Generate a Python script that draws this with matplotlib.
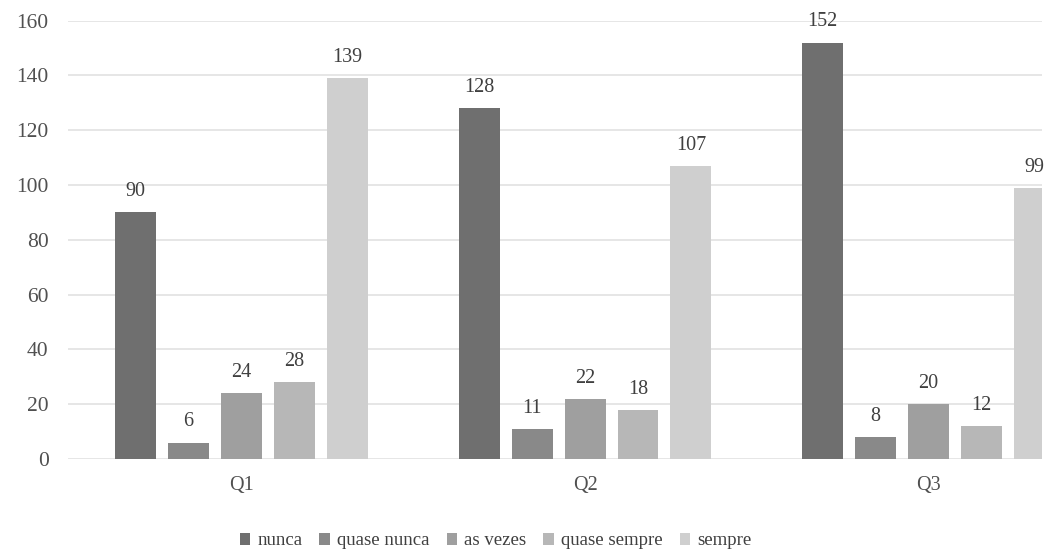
import numpy as np
import matplotlib
matplotlib.use("Agg")
import matplotlib.pyplot as plt

# data
questions = ["Q1", "Q2", "Q3"]
answers = ["nunca", "quase nunca", "as vezes", "quase sempre", "sempre"]
nunca = [90, 128, 152]
quase_nunca = [6, 11, 8]
as_vezes = [24, 22, 20]
quase_sempre = [28, 18, 12]
sempre = [139, 107, 99]
series = [nunca, quase_nunca, as_vezes, quase_sempre, sempre]
yticks = [0, 20, 40, 60, 80, 100, 120, 140, 160]

colors = ["#6f6f6f", "#898989", "#9f9f9f", "#b7b7b7", "#cfcfcf"]

plt.rcParams['font.family'] = ['Liberation Serif', 'DejaVu Serif']
plt.rcParams['font.size'] = 14.5

fig = plt.figure(figsize=(10.48, 5.56), dpi=100)
ax = fig.add_axes([0.0649, 0.1745, 0.9294, 0.7883])

x = np.arange(len(questions))
step = 0.154
width = 0.119
for i, (name, vals) in enumerate(zip(answers, series)):
    pos = x + (i - 2) * step
    bars = ax.bar(pos, vals, width, color=colors[i], label=name, zorder=3)
    for b, v in zip(bars, vals):
        ax.annotate(str(v), (b.get_x() + b.get_width() / 2, v),
                    xytext=(0, 8), textcoords="offset points",
                    ha="center", va="bottom", color="#404040", fontsize=14.5)

ax.set_xlim(-0.505, 2.33)
ax.set_ylim(0, 160)
ax.set_yticks(yticks)
ax.set_xticks(x)
ax.set_xticklabels(questions)
ax.grid(axis="y", color="#e2e2e2", linewidth=1.2, zorder=0)
for s in ax.spines.values():
    s.set_visible(False)
ax.tick_params(axis="both", length=0, colors="#505050", labelsize=14.5)
ax.tick_params(axis="y", labelsize=15.5, pad=14)
ax.tick_params(axis="x", pad=12)

fig.legend(loc="center", bbox_to_anchor=(0.473, 0.027), ncol=5, frameon=False,
           handlelength=0.55, handleheight=0.55, handletextpad=0.4,
           columnspacing=0.9, labelcolor="#404040", fontsize=13.5)

plt.savefig("out.png", dpi=100)
